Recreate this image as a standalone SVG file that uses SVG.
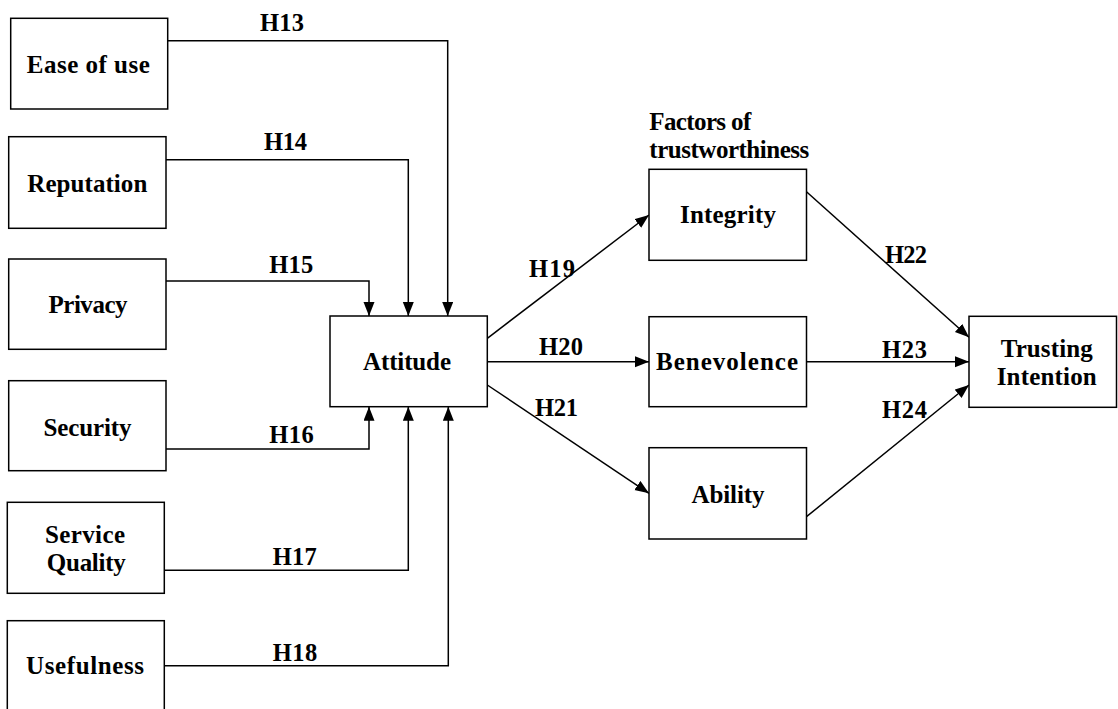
<svg xmlns="http://www.w3.org/2000/svg" width="1118" height="709" viewBox="0 0 1118 709">
<style>
.box{fill:#fff;stroke:#000;stroke-width:1.5}
.lbl{font-family:"Liberation Serif","Times New Roman",serif;font-weight:bold;font-size:25px;fill:#000}
.h{font-family:"Liberation Serif","Times New Roman",serif;font-weight:bold;font-size:24.5px;fill:#000}
.c{text-anchor:middle}
.ln{fill:none;stroke:#000;stroke-width:1.5}
.ar{marker-end:url(#arr)}
</style>
<defs>
<marker id="arr" markerUnits="userSpaceOnUse" markerWidth="15" markerHeight="12" refX="14" refY="5.5" orient="auto">
<path d="M0,0 L14,5.5 L0,11 z" fill="#000"/>
</marker>
</defs>
<rect width="1118" height="709" fill="#fff"/>
<g id="connectors">
<polyline class="ln ar" points="167.7,40.7 447.7,40.7 447.7,316"/>
<polyline class="ln ar" points="166,159.7 408.3,159.7 408.3,316"/>
<polyline class="ln ar" points="166,281 369,281 369,316"/>
<polyline class="ln ar" points="166,449 369,449 369,406.7"/>
<polyline class="ln ar" points="164.3,570.3 408.3,570.3 408.3,406.7"/>
<polyline class="ln ar" points="164.3,665.7 448.3,665.7 448.3,406.7"/>
<line class="ln ar" x1="487.3" y1="338.3" x2="649" y2="215"/>
<line class="ln ar" x1="487.3" y1="361.7" x2="649" y2="361.7"/>
<line class="ln ar" x1="487.3" y1="385" x2="649" y2="493.3"/>
<line class="ln ar" x1="806.5" y1="191.7" x2="969" y2="337.3"/>
<line class="ln ar" x1="806.5" y1="361.7" x2="969" y2="361.7"/>
<line class="ln ar" x1="806.5" y1="516.7" x2="969" y2="385"/>
<text class="h" x="260" y="30.7" textLength="44">H13</text>
<text class="h" x="264" y="150" textLength="43">H14</text>
<text class="h" x="269.3" y="272.7" textLength="44">H15</text>
<text class="h" x="269.3" y="442.7" textLength="44.5">H16</text>
<text class="h" x="272.7" y="565" textLength="44">H17</text>
<text class="h" x="272.7" y="660.7" textLength="44.5">H18</text>
<text class="h" x="529" y="276.7" textLength="46">H19</text>
<text class="h" x="539" y="355" textLength="44">H20</text>
<text class="h" x="535" y="416" textLength="43">H21</text>
<text class="h" x="885" y="263" textLength="42">H22</text>
<text class="h" x="882" y="358" textLength="45">H23</text>
<text class="h" x="882" y="418" textLength="45">H24</text>
</g>
<g id="ease">
<rect class="box" x="10.7" y="18.3" width="157" height="90.7"/>
<text class="lbl c" x="88.3" y="72.7" textLength="123">Ease of use</text>
</g>
<g id="reputation">
<rect class="box" x="8.7" y="136.7" width="157.3" height="91.6"/>
<text class="lbl c" x="87.3" y="192.3" textLength="120">Reputation</text>
</g>
<g id="privacy">
<rect class="box" x="8.7" y="259" width="157.3" height="90.3"/>
<text class="lbl c" x="88" y="313.3" textLength="79">Privacy</text>
</g>
<g id="security">
<rect class="box" x="8.7" y="380.7" width="157.3" height="90"/>
<text class="lbl c" x="87.5" y="435.7" textLength="88">Security</text>
</g>
<g id="service">
<rect class="box" x="7.3" y="502.3" width="157" height="91"/>
<text class="lbl c" x="85" y="542.5" textLength="80">Service</text>
<text class="lbl c" x="86.3" y="570.5" textLength="79">Quality</text>
</g>
<g id="usefulness">
<rect class="box" x="7.3" y="620.7" width="157" height="92"/>
<text class="lbl c" x="85" y="674" textLength="118">Usefulness</text>
</g>
<g id="attitude">
<rect class="box" x="330" y="316" width="157.3" height="90.7"/>
<text class="lbl c" x="407" y="370" textLength="88">Attitude</text>
</g>
<g id="factors">
<text class="lbl" x="649.3" y="130" textLength="102">Factors of</text>
<text class="lbl" x="649.3" y="158" textLength="160">trustworthiness</text>
</g>
<g id="integrity">
<rect class="box" x="649" y="169.3" width="157.5" height="91"/>
<text class="lbl c" x="728" y="223.3" textLength="96">Integrity</text>
</g>
<g id="benevolence">
<rect class="box" x="649" y="316.7" width="157.5" height="90"/>
<text class="lbl c" x="727" y="370" textLength="142">Benevolence</text>
</g>
<g id="ability">
<rect class="box" x="649" y="447.7" width="157.5" height="91.3"/>
<text class="lbl c" x="728" y="502.7" textLength="73">Ability</text>
</g>
<g id="trusting">
<rect class="box" x="969" y="316.3" width="147.5" height="91"/>
<text class="lbl c" x="1046.7" y="356.7" textLength="92">Trusting</text>
<text class="lbl c" x="1046.7" y="385" textLength="100">Intention</text>
</g>
</svg>
